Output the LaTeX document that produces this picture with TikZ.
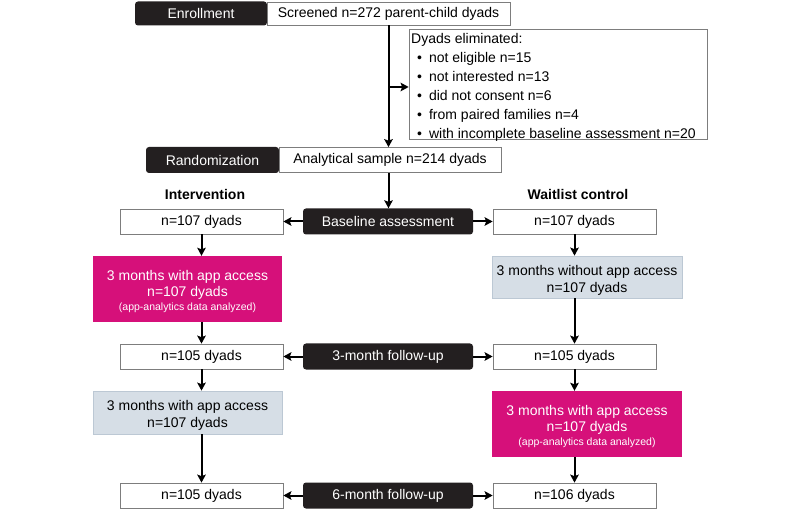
\documentclass[tikz,border=0pt]{standalone}
\usepackage{fontspec}
\setmainfont{Liberation Sans}
\usetikzlibrary{arrows.meta}
\definecolor{blk}{RGB}{35,31,32}
\definecolor{mag}{RGB}{214,16,122}
\definecolor{gry}{RGB}{214,222,230}
\definecolor{gryedge}{RGB}{188,200,212}
\definecolor{edgec}{RGB}{125,125,125}
\newcommand{\notesize}{\fontsize{10.5}{12}\selectfont}
\begin{document}
\begin{tikzpicture}[x=1pt,y=-1pt,
  font=\fontsize{14}{17}\selectfont,
  dim/.style 2 args={minimum width=#1, minimum height=#2},
  darkbox/.style={fill=blk, text=white, rounded corners=3pt, inner sep=0pt},
  whitebox/.style={draw=edgec, line width=0.7pt, fill=white, inner sep=0pt},
  greybox/.style={draw=gryedge, line width=0.7pt, fill=gry, inner sep=0pt, align=center, text height=33pt},
  magbox/.style={fill=mag, text=white, inner sep=0pt, align=center, text height=45.5pt},
  arr/.style={line width=2pt, -{Stealth[length=8pt,width=8.5pt,inset=1.5pt]}}
]
\useasboundingbox (0,0) rectangle (800,510);

% enrollment row
\node[darkbox, dim={132pt}{24pt}] (enr) at (201,13.5) {Enrollment};
\node[whitebox, dim={243pt}{23pt}] (scr) at (388.5,13.5) {Screened n=272 parent-child dyads};

% eliminated box
\node[whitebox, dim={298pt}{110pt}] (elim) at (558,84.5) {};
\node[anchor=north west, inner sep=0pt, align=left,
      font=\fontsize{14}{19}\selectfont] (elimtxt) at (411,33)
 {Dyads eliminated:\\
  \hspace*{6pt}\textbullet\hspace{7pt}not eligible n=15\\
  \hspace*{6pt}\textbullet\hspace{7pt}not interested n=13\\
  \hspace*{6pt}\textbullet\hspace{7pt}did not consent n=6\\
  \hspace*{6pt}\textbullet\hspace{7pt}from paired families n=4\\
  \hspace*{6pt}\textbullet\hspace{7pt}with incomplete baseline assessment n=20};

% randomization row
\node[darkbox, dim={133pt}{26pt}] (rand) at (212.5,160) {Randomization};
\node[whitebox, dim={222pt}{25pt}] (ana) at (390,160) {Analytical sample n=214 dyads};

% group labels
\node[font=\bfseries\fontsize{14}{17}\selectfont] (intlab) at (205,194) {Intervention};
\node[font=\bfseries\fontsize{14}{17}\selectfont] (waitlab) at (578,194) {Waitlist control};

% baseline row
\node[whitebox, dim={163pt}{25pt}] (n107L) at (201.5,221.5) {n=107 dyads};
\node[darkbox, dim={170pt}{26pt}] (base) at (388,221.5) {Baseline assessment};
\node[whitebox, dim={163pt}{25pt}] (n107R) at (574.5,221.5) {n=107 dyads};

% first 3 months
\node[magbox, dim={189pt}{66pt}] (magL) at (187.5,289)
 {3 months with app access\\[-1pt] n=107 dyads\\[-3pt] {\notesize (app-analytics data analyzed)}};
\node[greybox, dim={190pt}{42pt}] (greyR) at (587,277)
 {3 months without app access\\ n=107 dyads};

% 3-month follow-up row
\node[whitebox, dim={163pt}{25pt}] (n105L) at (201.5,356.5) {n=105 dyads};
\node[darkbox, dim={170pt}{26pt}] (fu3) at (388,356.5) {3-month follow-up};
\node[whitebox, dim={163pt}{25pt}] (n105R) at (574.5,356.5) {n=105 dyads};

% second 3 months
\node[greybox, dim={189pt}{43pt}] (greyL) at (187.5,412.5)
 {3 months with app access\\ n=107 dyads};
\node[magbox, dim={190pt}{66pt}] (magR) at (587,424)
 {3 months with app access\\[-1pt] n=107 dyads\\[-3pt] {\notesize (app-analytics data analyzed)}};

% 6-month follow-up row
\node[whitebox, dim={163pt}{25pt}] (n105Lb) at (201.5,495.5) {n=105 dyads};
\node[darkbox, dim={170pt}{26pt}] (fu6) at (388,495.5) {6-month follow-up};
\node[whitebox, dim={163pt}{25pt}] (n106R) at (574.5,495.5) {n=106 dyads};

% top connectors
\coordinate (br) at (388,87);
\draw[arr] (scr.south) -- (scr.south |- ana.north);
\draw[arr] (br) -- (br -| elim.west);
\draw[arr] (ana.south -| scr.south) -- (scr.south |- base.north);

% horizontal connectors
\draw[arr] (base.west) -- (n107L.east);
\draw[arr] (base.east) -- (n107R.west);
\draw[arr] (fu3.west) -- (n105L.east);
\draw[arr] (fu3.east) -- (n105R.west);
\draw[arr] (fu6.west) -- (n105Lb.east);
\draw[arr] (fu6.east) -- (n106R.west);

% left column
\draw[arr] (n107L.south) -- (n107L.south |- magL.north);
\draw[arr] (magL.south -| n107L.south) -- (n105L.north);
\draw[arr] (n105L.south) -- (n105L.south |- greyL.north);
\draw[arr] (greyL.south -| n105L.south) -- (n105Lb.north);

% right column
\draw[arr] (n107R.south) -- (n107R.south |- greyR.north);
\draw[arr] (greyR.south -| n107R.south) -- (n105R.north);
\draw[arr] (n105R.south) -- (n105R.south |- magR.north);
\draw[arr] (magR.south -| n105R.south) -- (n106R.north);
\end{tikzpicture}
\end{document}
